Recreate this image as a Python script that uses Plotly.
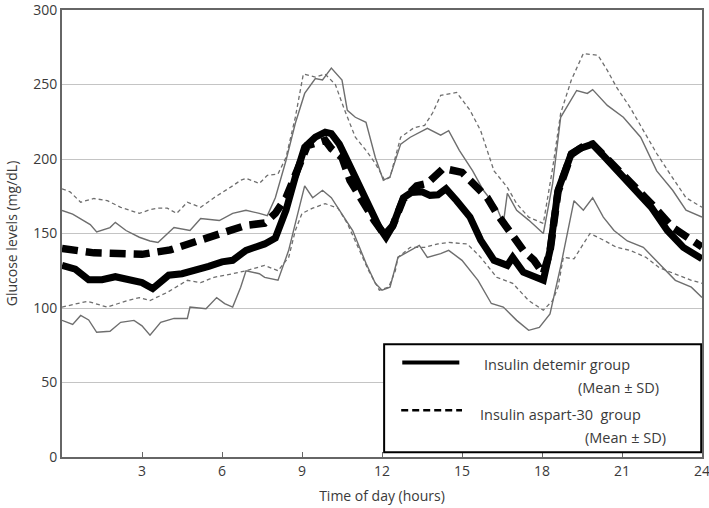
import plotly.graph_objects as go

# ---- data (hours, mg/dL) ----
det_mean_h = [0, 0.5, 1.0, 1.5, 2.0, 2.5, 3.0, 3.4, 4.0, 4.5, 5.0, 5.5, 6.0, 6.4, 6.9, 7.6, 8.0, 8.4, 8.75,
              9.1, 9.5, 9.87, 10.1, 10.4, 10.7, 11.1, 11.5, 11.9, 12.15, 12.4, 12.8, 13.1, 13.5, 13.8, 14.1,
              14.4, 14.8, 15.3, 15.7, 16.2, 16.7, 16.9, 17.3, 17.7, 18.05, 18.3, 18.6, 19.1, 19.4, 19.9,
              20.3, 20.8, 21.4, 22.1, 22.7, 23.3, 24]
det_mean = [128.6, 126, 119, 119, 121, 119, 117, 113, 122, 123, 125, 128, 131, 132, 138.7, 143, 147, 165.6, 188,
            208, 214.6, 218, 217, 210, 199, 183.6, 167.6, 154, 147.5, 155, 174, 177.5, 178, 175.6, 176,
            180, 172, 161, 145.6, 132, 128.6, 134, 124, 120.6, 118.6, 138.7, 179, 203.7, 207, 210,
            202.5, 192, 181, 167.6, 152, 140.7, 133]

asp_mean_h = [0, 0.6, 1.2, 2.1, 3.0, 4.06, 4.9, 5.7, 6.2, 6.9, 7.6, 8.0, 8.4, 8.8, 9.2, 9.6, 9.87, 10.1, 10.5,
              10.8, 11.25, 11.7, 12.1, 12.4, 12.8, 13.3, 13.7, 14.3, 15.0, 15.4, 15.95, 16.3, 16.8, 17.3,
              17.7, 18.05, 18.3, 18.6, 19.1, 19.5, 19.9, 20.3, 20.8, 21.4, 22.1, 22.9, 23.6, 24]
asp_mean = [140, 138.7, 137, 136.5, 136, 139, 144, 147.5, 150.8, 155.5, 157, 163.5, 174, 192, 209, 211, 212.5,
            207, 201, 185.7, 172, 159, 149, 155, 173, 182, 183.6, 193.7, 191, 183.6, 174, 163.5, 150, 138.7,
            132, 123, 138, 178, 203, 208, 210, 203, 194, 183, 170, 154, 145.6, 141]

det_hi_h = [0, 0.4, 1.06, 1.3, 1.8, 2.0, 2.4, 2.9, 3.3, 3.6, 4.2, 4.8, 5.2, 5.9, 6.4, 6.9, 7.4, 7.7, 8.0, 8.4,
            8.75, 9.1, 9.5, 9.77, 10.1, 10.5, 10.7, 11.0, 11.4, 11.75, 12.05, 12.3, 12.7, 13.06, 13.7, 14.2,
            14.5, 14.9, 15.4, 15.8, 16.3, 16.55, 16.7, 17.05, 17.5, 18.05, 18.4, 18.7, 19.3, 19.7, 19.9,
            20.45, 21.05, 21.7, 22.3, 22.9, 23.4, 24]
det_hi = [165.5, 163, 156, 151, 154, 157.5, 152, 147.5, 145, 144, 154, 152, 160, 158.7, 163.5, 165.6, 163.5,
          162, 174, 199, 224, 244, 254, 253, 261, 253, 232.7, 228, 224.6, 201, 185.7, 188, 210, 214.6, 220.6,
          216, 219, 205.8, 192, 179, 167.6, 156.8, 177, 165.6, 159, 150, 183.6, 228, 246, 244, 246.6, 236,
          228, 214.6, 192, 179, 165.6, 161]

det_lo_h = [0, 0.4, 0.7, 1.0, 1.3, 1.8, 2.2, 2.7, 3.0, 3.3, 3.7, 4.2, 4.7, 4.8, 5.4, 5.8, 6.1, 6.4, 6.7, 6.9,
            7.4, 7.6, 8.1, 8.5, 8.75, 9.1, 9.4, 9.77, 10.1, 10.4, 10.9, 11.4, 11.75, 12.0, 12.3, 12.6, 13.06,
            13.4, 13.7, 14.2, 14.5, 15.0, 15.6, 16.1, 16.55, 17.05, 17.5, 17.9, 18.3, 18.7, 19.2, 19.55,
            19.9, 20.3, 20.7, 21.2, 21.8, 22.4, 23.0, 23.6, 24]
det_lo = [91.7, 89, 95, 92, 83.7, 84.4, 90.4, 91.7, 88, 81.7, 90.4, 93, 93, 100.6, 99.5, 107, 103, 100.6, 114,
          125, 123, 120.6, 118.6, 138.7, 156.8, 182, 174, 179, 174, 165.6, 152, 130, 116.6, 112, 114, 134,
          138.7, 142, 134, 136.5, 138.7, 132, 118.6, 103, 100.6, 91.7, 85, 87, 96, 128, 172, 165.6, 174, 161,
          152, 145, 140.7, 130, 118.6, 114, 107]

asp_hi_h = [0, 0.3, 0.7, 1.2, 1.7, 2.2, 2.9, 3.3, 3.6, 3.95, 4.3, 4.7, 5.2, 5.7, 6.4, 6.7, 6.9, 7.4, 7.7, 8.1,
            8.4, 8.75, 9.05, 9.5, 9.87, 10.25, 10.6, 11.0, 11.4, 11.75, 12.1, 12.3, 12.7, 13.2, 13.6, 13.9,
            14.2, 14.8, 15.3, 15.7, 16.2, 16.7, 17.05, 17.5, 18.05, 18.4, 18.7, 19.1, 19.55, 20.1, 20.45,
            20.8, 21.3, 21.8, 22.3, 22.8, 23.4, 24]
asp_hi = [180, 178, 171, 173.5, 172, 167.6, 163.5, 166, 167, 167, 163.5, 171, 167.6, 174, 182, 185.7, 187,
          183.6, 189, 190, 201, 228, 257, 255, 257, 250, 232.7, 214.6, 205.8, 197, 185.7, 187.7, 214.6, 221,
          222.6, 231, 242.7, 244.7, 232.7, 219, 192, 181, 170, 161, 156.8, 194, 230.7, 253, 270.8, 269.6,
          259.5, 248, 234.7, 219, 203.7, 190, 174, 167.6]

asp_lo_h = [0, 0.95, 1.7, 2.45, 2.9, 3.3, 3.95, 4.7, 5.2, 5.7, 6.4, 6.9, 7.6, 8.1, 8.5, 8.75, 9.0, 9.4, 9.87,
            10.35, 10.7, 11.1, 11.5, 11.9, 12.25, 12.5, 12.6, 13.06, 13.6, 14.1, 14.5, 15.2, 15.7, 16.3,
            16.9, 17.5, 18.05, 18.4, 18.6, 18.8, 19.2, 19.55, 19.8, 20.3, 20.8, 21.3, 21.9, 22.4, 23.0,
            23.6, 24]
asp_lo = [100.6, 104.5, 100.6, 105, 107, 105, 110.5, 118.6, 117, 120.6, 123, 125, 128.6, 125, 134, 152, 163.5,
          167, 170, 167, 156.8, 140.7, 125, 112, 114, 125, 134, 140.7, 140.7, 143, 144, 143, 134, 120.6,
          116.6, 105, 98.5, 105, 114, 134, 133, 143, 150, 145.6, 140.7, 138.7, 134, 127, 123, 118.6, 116.6]

x_ticks = [3, 6, 9, 12, 15, 18, 21, 24]
y_ticks = [0, 50, 100, 150, 200, 250, 300]
legend_labels = ["Insulin detemir group", "Insulin aspart-30  group"]
legend_sub = "(Mean \u00b1 SD)"

FONT = "Open Sans"
TXT = "#3a3a3a"

fig = go.Figure()
sd_col = "#6e6e6e"
fig.add_trace(go.Scatter(x=det_hi_h, y=det_hi, mode="lines", line=dict(color=sd_col, width=1.4)))
fig.add_trace(go.Scatter(x=det_lo_h, y=det_lo, mode="lines", line=dict(color=sd_col, width=1.4)))
fig.add_trace(go.Scatter(x=asp_hi_h, y=asp_hi, mode="lines", line=dict(color=sd_col, width=1.3, dash="4px,3px")))
fig.add_trace(go.Scatter(x=asp_lo_h, y=asp_lo, mode="lines", line=dict(color=sd_col, width=1.3, dash="4px,3px")))
fig.add_trace(go.Scatter(x=asp_mean_h, y=asp_mean, mode="lines",
                         line=dict(color="black", width=7.5, dash="16px,8px")))
fig.add_trace(go.Scatter(x=det_mean_h, y=det_mean, mode="lines", line=dict(color="black", width=7)))

# manual legend box (drawn in data units)
fig.add_shape(type="rect", x0=12.08, x1=23.97, y0=3.2, y1=75.6, xref="x", yref="y",
              line=dict(color="black", width=2), fillcolor="white", layer="above")
fig.add_shape(type="line", x0=12.76, x1=14.9, y0=63.5, y1=63.5, xref="x", yref="y",
              line=dict(color="black", width=4), layer="above")
fig.add_shape(type="line", x0=12.72, x1=15.0, y0=31.3, y1=31.3, xref="x", yref="y",
              line=dict(color="black", width=2.5, dash="7px,4px"), layer="above")
annos = [
    dict(x=15.76, y=62.0, text=legend_labels[0], xanchor="left"),
    dict(x=22.45, y=46.5, text=legend_sub, xanchor="right"),
    dict(x=15.6, y=28.5, text=legend_labels[1], xanchor="left"),
    dict(x=22.72, y=13.0, text=legend_sub, xanchor="right"),
]
for a in annos:
    fig.add_annotation(x=a["x"], y=a["y"], text=a["text"], xanchor=a["xanchor"], yanchor="middle",
                       xref="x", yref="y", showarrow=False, font=dict(family=FONT, size=14.5, color=TXT))

fig.update_layout(
    width=709, height=508,
    margin=dict(l=62, r=7, t=10, b=51),
    paper_bgcolor="white", plot_bgcolor="white",
    showlegend=False,
    font=dict(family=FONT, size=14, color=TXT),
)
fig.update_xaxes(range=[0, 24], tickvals=x_ticks, ticktext=[str(v) for v in x_ticks],
                 showgrid=False, zeroline=False, ticklabeloverflow="allow", automargin=False,
                 showline=True, linecolor="#666", linewidth=2, mirror=True,
                 ticks="inside", ticklen=5, tickcolor="#666", tickwidth=1,
                 tickfont=dict(family=FONT, size=14, color=TXT),
                 title=dict(text="Time of day (hours)", font=dict(family=FONT, size=14, color=TXT), standoff=12))
fig.update_yaxes(range=[0, 300], tickvals=y_ticks, ticktext=[str(v) for v in y_ticks],
                 showgrid=True, gridcolor="#c4c4c4", gridwidth=1.2, zeroline=False, ticklabeloverflow="allow",
                 automargin=False,
                 showline=True, linecolor="#666", linewidth=2, mirror=True,
                 ticks="", tickfont=dict(family=FONT, size=14, color=TXT),
                 title=dict(text="Glucose levels (mg/dL)", font=dict(family=FONT, size=14, color=TXT), standoff=12))

fig.write_html("out.html", config={"displayModeBar": False},
               post_script="document.body.style.margin='0px';")
